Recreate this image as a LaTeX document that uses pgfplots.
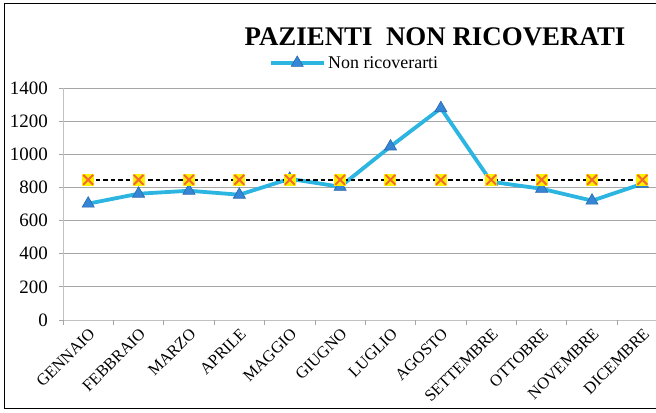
\documentclass[border=0pt]{standalone}
\usepackage{pgfplots}
\pgfplotsset{compat=1.18}
\usepackage{fontspec}
\setmainfont{Liberation Serif}
\definecolor{linecol}{HTML}{2BB5E0}
\definecolor{tricol}{HTML}{3586D6}
\definecolor{tridraw}{HTML}{2A66AA}
\definecolor{gridcol}{HTML}{A6A6A6}
\definecolor{xcol}{HTML}{F26A2E}
\definecolor{ycol}{HTML}{FFF200}
\begin{document}
\begin{tikzpicture}[x=1bp,y=1bp]
\useasboundingbox (0,0) rectangle (656,412);
\draw[black, line width=1bp] (670,4) -- (4,4) -- (4,408) -- (670,408);
\begin{axis}[
  at={(63bp,92bp)}, anchor=south west,
  scale only axis, width=593bp, height=232bp,
  xmin=-0.5, xmax=11.27, ymin=0, ymax=1400,
  ytick={0,200,...,1400},
  xtick={0,...,11},
  xticklabels={GENNAIO,FEBBRAIO,MARZO,APRILE,MAGGIO,GIUGNO,LUGLIO,AGOSTO,SETTEMBRE,OTTOBRE,NOVEMBRE,DICEMBRE},
  xtick style={draw=none},
  extra x ticks={-0.5,0.5,...,10.5},
  extra x tick labels={},
  extra x tick style={xtick style={draw=gridcol, line width=0.8bp}, major tick length=5bp, grid=none},
  tick align=outside,
  major tick length=4bp,
  ytick style={draw=gridcol, line width=0.8bp},
  ymajorgrids,
  grid style={draw=gridcol, line width=0.8bp},
  axis lines*=left,
  axis line style={-, draw=gridcol!70, line width=1bp},
  /pgf/number format/assume math mode=true,
  /pgf/number format/1000 sep={},
  yticklabel style={font=\fontsize{19}{19}\selectfont, inner sep=0pt, xshift=-11bp},
  xticklabel style={font=\fontsize{16.5}{16.5}\selectfont, rotate=45, anchor=north east, inner sep=0pt},
  xticklabel shift=3bp,
  legend style={at={(0.492,1.108)}, anchor=center, draw=none, fill=none,
    font=\fontsize{18}{18}\selectfont, inner sep=0pt},
  legend image code/.code={\draw[mark repeat=2,mark phase=2,#1] plot coordinates {(0bp,0bp) (26bp,0bp) (53bp,0bp)};},
]
\addplot[color=linecol, line width=3.8bp, mark=triangle*, mark size=7bp,
  mark options={fill=tricol, draw=tridraw, line width=0.6bp}]
  coordinates {(0,702) (1,762) (2,780) (3,756) (4,852) (5,804) (6,1047) (7,1278) (8,834) (9,792) (10,720) (11,822)};
\addlegendentry{Non ricoverarti}
\addplot[black, line width=1.8bp, dash pattern=on 4.5bp off 3bp, mark=square*, mark size=5.5bp,
  mark options={fill=ycol, draw=ycol, line width=0pt, solid}, forget plot]
  coordinates {(0,846) (1,846) (2,846) (3,846) (4,846) (5,846) (6,846) (7,846) (8,846) (9,846) (10,846) (11,846)};
\addplot[xcol, only marks, mark=x, mark size=7bp, mark options={draw=xcol, line width=2bp, solid}, forget plot]
  coordinates {(0,846) (1,846) (2,846) (3,846) (4,846) (5,846) (6,846) (7,846) (8,846) (9,846) (10,846) (11,846)};
\end{axis}
\node[anchor=base, font=\fontsize{27}{30}\selectfont\bfseries, inner sep=0pt] at (435,367) {PAZIENTI\ \ NON RICOVERATI};
\end{tikzpicture}
\end{document}
